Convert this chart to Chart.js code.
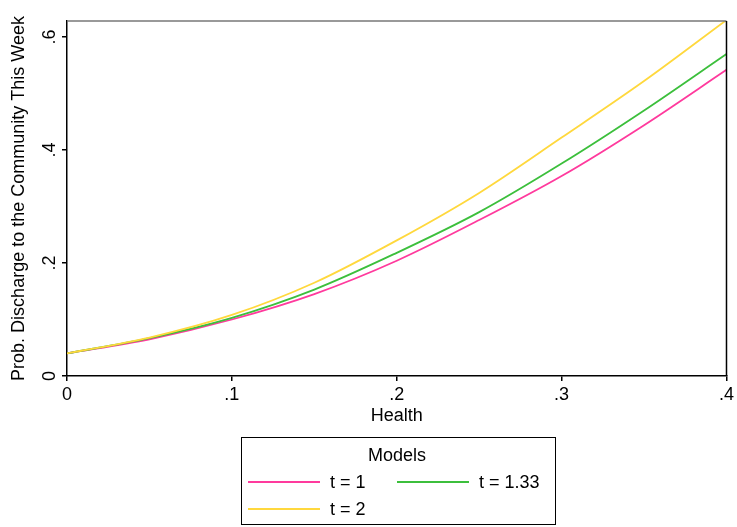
<!DOCTYPE html>
<html>
<head>
<meta charset="utf-8">
<script src="https://cdn.jsdelivr.net/npm/chart.js@4"></script>
<style>
  html, body { margin: 0; padding: 0; background: #fff; }
  #wrap { width: 737px; height: 527px; }
</style>
</head>
<body>
<div id="wrap"><canvas id="chart"></canvas></div>
<script>
// valores
const health = [0, 0.05, 0.1, 0.15, 0.2, 0.25, 0.3, 0.35, 0.4];
const probT1 = [0.040, 0.065, 0.100, 0.145, 0.204, 0.276, 0.354, 0.444, 0.542];
const probT133 = [0.040, 0.067, 0.103, 0.153, 0.218, 0.290, 0.376, 0.470, 0.570];
const probT2 = [0.040, 0.068, 0.108, 0.165, 0.240, 0.324, 0.422, 0.522, 0.630];
const xTicks = [0, 0.1, 0.2, 0.3, 0.4];
const yTicks = [0, 0.2, 0.4, 0.6];
const seriesLabels = ['t = 1', 't = 1.33', 't = 2'];

const FONT = 'Liberation Sans, Arial, sans-serif';

function fmt(v) {
    if (v === 0) return '0';
    return String(+v.toFixed(2)).replace(/^0/, '');
}

function pts(arr) {
    return health.map(function(h, i) { return { x: h, y: arr[i] }; });
}

// contorno do gráfico e legenda
const frameAndLegend = {
    id: 'frameAndLegend',
    afterDraw: function(chart) {
        const ctx = chart.ctx;
        const a = chart.chartArea;
        ctx.save();
        ctx.lineWidth = 1.5;
        ctx.strokeStyle = '#777';
        ctx.beginPath();
        ctx.moveTo(a.left, a.top);
        ctx.lineTo(a.right, a.top);
        ctx.stroke();
        ctx.strokeStyle = '#000';
        ctx.beginPath();
        ctx.moveTo(a.right, a.top);
        ctx.lineTo(a.right, a.bottom);
        ctx.stroke();

        // legenda
        const bx = 241, by = 437, bw = 314, bh = 87;
        ctx.lineWidth = 1;
        ctx.strokeStyle = '#000';
        ctx.strokeRect(bx + 0.5, by + 0.5, bw, bh);
        ctx.fillStyle = '#000';
        ctx.font = '18px ' + FONT;
        ctx.textAlign = 'center';
        ctx.textBaseline = 'middle';
        ctx.fillText('Models', 397, 456);
        ctx.textAlign = 'left';
        const slots = [[248, 482], [397, 482], [248, 509]];
        chart.data.datasets.forEach(function(ds, i) {
            const s = slots[i];
            ctx.strokeStyle = ds.borderColor;
            ctx.lineWidth = 1.8;
            ctx.beginPath();
            ctx.moveTo(s[0], s[1]);
            ctx.lineTo(s[0] + 72, s[1]);
            ctx.stroke();
            ctx.fillText(ds.label, s[0] + 82, s[1] + 1);
        });
        ctx.restore();
    }
};

const ctx = document.getElementById('chart').getContext('2d');
const chart = new Chart(ctx, {
    type: 'line',
    data: {
        datasets: [{
            label: seriesLabels[0],
            data: pts(probT1),
            borderColor: '#ff3a9d',
            borderWidth: 1.8,
            pointRadius: 0,
            cubicInterpolationMode: 'monotone',
            order: 3
        }, {
            label: seriesLabels[1],
            data: pts(probT133),
            borderColor: '#3cbf3c',
            borderWidth: 1.8,
            pointRadius: 0,
            cubicInterpolationMode: 'monotone',
            order: 2
        }, {
            label: seriesLabels[2],
            data: pts(probT2),
            borderColor: '#ffd83d',
            borderWidth: 1.8,
            pointRadius: 0,
            cubicInterpolationMode: 'monotone',
            order: 1
        }]
    },
    options: {
        responsive: true,
        maintainAspectRatio: false,
        animation: false,
        layout: {
            padding: { top: 21, right: 8, bottom: 100, left: 0 }
        },
        plugins: {
            legend: { display: false },
            tooltip: { enabled: false }
        },
        scales: {
            x: {
                type: 'linear',
                min: 0,
                max: 0.4,
                afterBuildTicks: function(scale) {
                    scale.ticks = xTicks.map(function(v) { return { value: v }; });
                },
                afterFit: function(scale) { scale.height = 51; },
                border: { display: true, color: '#000', width: 1.5 },
                grid: { drawOnChartArea: false, drawTicks: true, tickLength: 5, color: '#000', lineWidth: 1.5 },
                ticks: {
                    color: '#000',
                    font: { family: FONT, size: 18 },
                    padding: 3,
                    maxRotation: 0,
                    callback: function(v) { return fmt(v); }
                },
                title: {
                    display: true,
                    text: 'Health',
                    color: '#000',
                    font: { family: FONT, size: 18 },
                    padding: { top: 0, bottom: 0 }
                }
            },
            y: {
                min: 0,
                max: 0.6283,
                afterBuildTicks: function(scale) {
                    scale.ticks = yTicks.map(function(v) { return { value: v }; });
                },
                afterFit: function(scale) { scale.width = 67; },
                border: { display: true, color: '#000', width: 1.5 },
                grid: { drawOnChartArea: false, drawTicks: true, tickLength: 5, color: '#000', lineWidth: 1.5 },
                ticks: {
                    color: '#000',
                    font: { family: FONT, size: 18 },
                    padding: 4,
                    minRotation: 90,
                    maxRotation: 90,
                    crossAlign: 'center',
                    callback: function(v) { return fmt(v); }
                },
                title: {
                    display: true,
                    text: 'Prob. Discharge to the Community This Week',
                    color: '#000',
                    font: { family: FONT, size: 18 },
                    padding: { top: 8, bottom: 0 }
                }
            }
        }
    },
    plugins: [frameAndLegend]
});
</script>
</body>
</html>
